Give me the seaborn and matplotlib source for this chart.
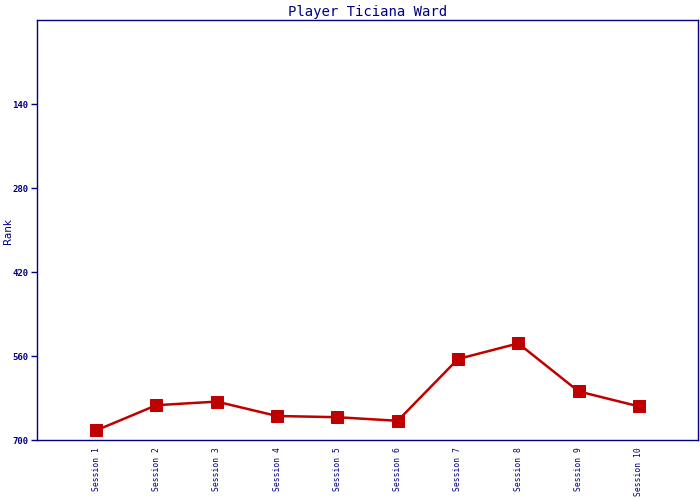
import matplotlib
matplotlib.use("Agg")
import matplotlib.pyplot as plt
import seaborn as sns
import pandas as pd

sessions = ["Session 1", "Session 2", "Session 3", "Session 4", "Session 5",
            "Session 6", "Session 7", "Session 8", "Session 9", "Session 10"]
ranks = [684, 642, 636, 660, 662, 668, 565, 539, 619, 644]
y_ticks = [140, 280, 420, 560, 700]

sns.set_style("white")
plt.rcParams['font.family'] = ['DejaVu Sans Mono', 'DejaVu Sans']

navy = "#000080"
red = "#c00000"

df = pd.DataFrame({"Session": sessions, "Rank": ranks, "x": range(len(sessions))})

fig = plt.figure(figsize=(7, 5), dpi=100)
ax = fig.add_axes([37/700, 1-440/500, (698-37)/700, (440-20)/500])

sns.lineplot(data=df, x="x", y="Rank", ax=ax, color=red, linewidth=1.8,
             marker="s", markersize=8, markeredgecolor=red, markerfacecolor=red)

ax.set_ylim(700, 0)
ax.set_xlim(-0.98, 9.98)
ax.set_yticks(y_ticks)
ax.set_yticklabels([str(v) for v in y_ticks], fontsize=6.5, color=navy, fontweight="bold")
ax.set_xticks(range(len(sessions)))
ax.set_xticklabels(sessions, rotation=90, fontsize=5.8, color=navy)
ax.tick_params(axis="y", direction="out", length=4, width=1, color=navy, pad=2, left=True)
ax.tick_params(axis="x", length=0, pad=5)
for s in ax.spines.values():
    s.set_color(navy)
    s.set_linewidth(1)
ax.set_xlabel("")
ax.set_ylabel("")
fig.text(8/700, 1-231/500, "Rank", rotation=90, color=navy, fontsize=7.5,
         family="DejaVu Sans", ha="center", va="center")
ax.set_title("Player Ticiana Ward", color=navy, fontsize=10, pad=3)
ax.grid(False)

fig.savefig("out.png", dpi=100)
